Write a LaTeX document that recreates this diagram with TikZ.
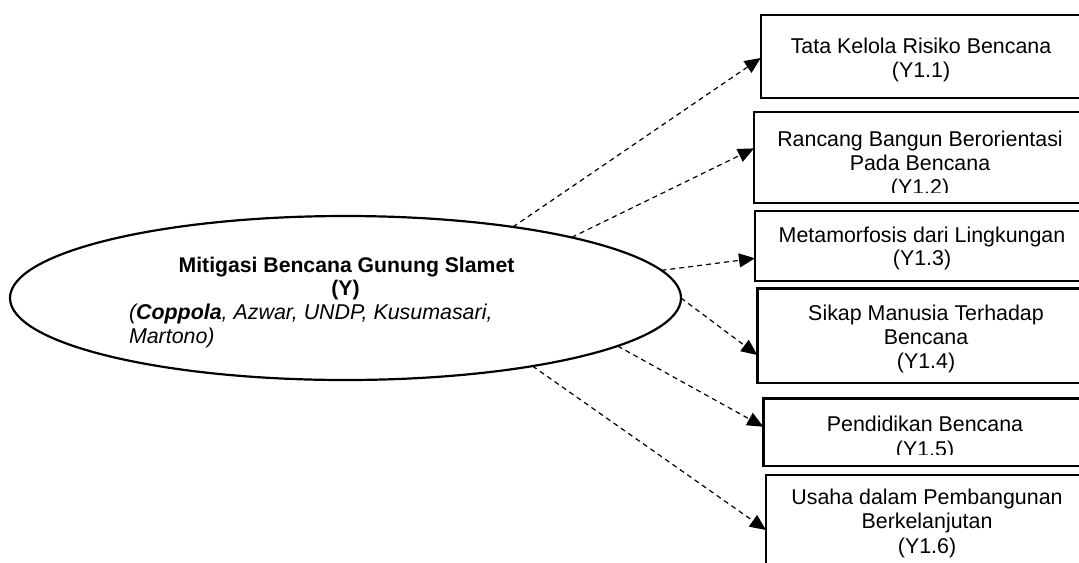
\documentclass[tikz,border=0pt]{standalone}
\usepackage{fontspec}
\setmainfont{Liberation Sans}
\usetikzlibrary{shapes.geometric,arrows.meta,calc}
\begin{document}
\begin{tikzpicture}[x=0.5pt,y=-0.5pt,
  txt/.style={inner sep=0pt,outer sep=0pt,anchor=base,font=\fontsize{10.7}{12}\selectfont},
  ital/.style={txt,anchor=base west,font=\fontsize{10.7}{12}\selectfont\itshape},
  boxnode/.style={draw,line width=1.2pt,rectangle,anchor=north west,inner sep=0pt,outer sep=0pt},
  link/.style={line width=0.6pt,dash pattern=on 2.5pt off 2pt,-{Triangle[length=8pt,width=7pt]}}
]
\useasboundingbox (0,0) rectangle (1079,562);
\clip (0,0) rectangle (1079,562);

% central construct
\node[draw,ellipse,line width=1.1pt,inner sep=0pt,outer sep=0pt,
      minimum width=335.5pt,minimum height=82pt] (ell) at (345.5,298) {};
\node[txt,font=\fontsize{10.6}{12}\selectfont\bfseries] (title) at (346.5,272) {Mitigasi Bencana Gunung Slamet};
\node[txt,font=\fontsize{10.6}{12}\selectfont\bfseries] (sym) at (345.5,295.5) {(Y)};
\node[ital] (ref1) at (129,319.5) {(\textbf{Coppola}, Azwar, UNDP, Kusumasari,};
\node[ital] (ref2) at (129,343) {Martono)};

% indicator boxes (they run past the right edge)
\node[boxnode,minimum width=165pt,minimum height=41.5pt] (b1) at (760.7,15) {};
\node[boxnode,minimum width=168pt,minimum height=45.5pt] (b2) at (754,112) {};
\node[boxnode,minimum width=167.5pt,minimum height=35pt] (b3) at (755,211) {};
\node[boxnode,minimum width=166.5pt,minimum height=47.2pt] (b4) at (757.3,288.3) {};
\node[boxnode,minimum width=163.5pt,minimum height=33.85pt] (b5) at (763.3,398.3) {};
\node[boxnode,minimum width=162pt,minimum height=57.5pt] (b6) at (766,475) {};

% box texts
\node[txt] (b1a) at (921,53.5) {Tata Kelola Risiko Bencana};
\node[txt] (b1b) at (921,77.5) {(Y1.1)};

\begin{scope}
  \clip (754,112) rectangle (1079,192);
  \node[txt] (b2a) at (920,146) {Rancang Bangun Berorientasi};
  \node[txt] (b2b) at (920,170) {Pada Bencana};
  \node[txt] (b2c) at (920,194) {(Y1.2)};
\end{scope}

\node[txt] (b3a) at (922,242) {Metamorfosis dari Lingkungan};
\node[txt] (b3b) at (922,265.5) {(Y1.3)};

\node[txt] (b4a) at (926,320) {Sikap Manusia Terhadap};
\node[txt] (b4b) at (926,344) {Bencana};
\node[txt] (b4c) at (926,368) {(Y1.4)};

\begin{scope}
  \clip (763,398) rectangle (1079,454);
  \node[txt] (b5a) at (925,431) {Pendidikan Bencana};
  \node[txt] (b5b) at (925,456) {(Y1.5)};
\end{scope}

\node[txt] (b6a) at (927,504) {Usaha dalam Pembangunan};
\node[txt] (b6b) at (927,528.5) {Berkelanjutan};
\node[txt] (b6c) at (927,553) {(Y1.6)};

% dashed links from the construct to its indicators
\draw[link] (ell.23)  -- ($(b1.north west)!0.518!(b1.south west)$);
\draw[link] (ell.15)  -- ($(b2.north west)!0.40!(b2.south west)$);
\draw[link] (ell.5)   -- ($(b3.north west)!0.676!(b3.south west)$);
\draw[link] (ell.0)   -- ($(b4.north west)!0.707!(b4.south west)$);
\draw[link] (ell.-10) -- ($(b5.north west)!0.42!(b5.south west)$);
\draw[link] (ell.-20) -- ($(b6.north west)!0.478!(b6.south west)$);
\end{tikzpicture}
\end{document}
